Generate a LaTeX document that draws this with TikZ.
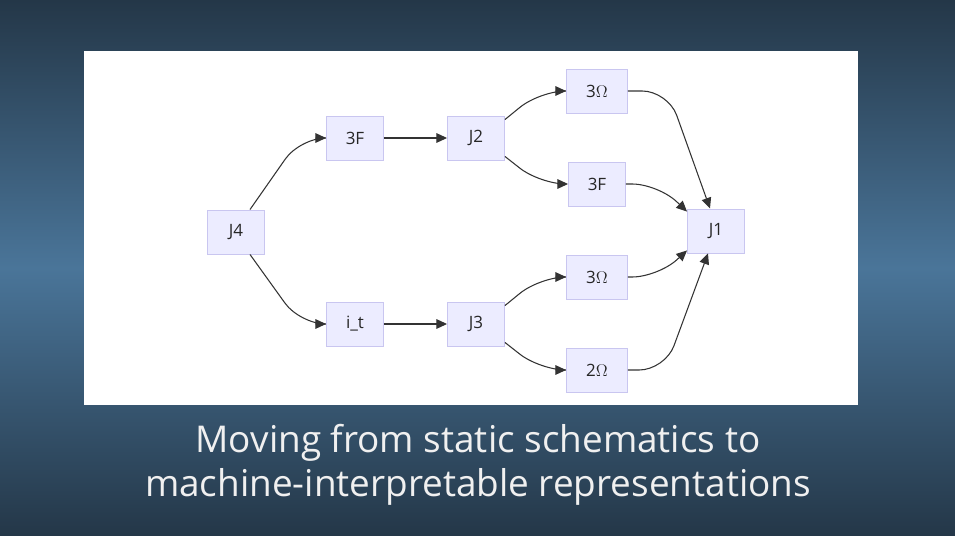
\documentclass[tikz,border=0pt]{standalone}
\usepackage{fontspec}
\setmainfont{Open Sans}
\usetikzlibrary{arrows.meta}
\usetikzlibrary{calc}

\definecolor{slidetop}{HTML}{243748}
\definecolor{slidemid}{HTML}{4A7599}
\definecolor{boxfill}{HTML}{ECECFF}
\definecolor{boxline}{HTML}{C9C6F0}
\definecolor{edgecol}{HTML}{333333}

\begin{document}
\begin{tikzpicture}[x=0.03cm, y=-0.03cm,
                    box/.style={draw=boxline, fill=boxfill, line width=0.8pt,
                      minimum width=1.71cm, minimum height=1.32cm, inner sep=0pt,
                      font=\fontsize{14.5}{16}\selectfont, text=black!85},
                    wide/.style={minimum width=1.83cm},
                    edge/.style={draw=edgecol, line width=0.9pt, rounded corners=22,
                      -{Triangle[length=3.2mm, width=2.9mm]}}]
      % slide background and white panel
      \shade[top color=slidetop, bottom color=slidetop, middle color=slidemid]
        (0,0) rectangle (955,536);
      \useasboundingbox (0,0) rectangle (955,536);
      \fill[white] (84,51) rectangle (858,405);

      \node[box] (J4) at (236,232) {J4};
      \node[box] (F1) at (355,138) {3F};
      \node[box] (J2) at (476,138) {J2};
      \node[box] (It) at (355,324) {i\_t};
      \node[box] (J3) at (476,324) {J3};
      \node[box, wide] (R1) at (597,91) {3$\Omega$};
      \node[box] (F2) at (597,184) {3F};
      \node[box, wide] (R2) at (597,277) {3$\Omega$};
      \node[box, wide] (R3) at (597,370) {2$\Omega$};
      \node[box] (J1) at (716,231) {J1};

      \begin{scope}
          \draw[edge] ($(J4.north)+(14,0)$) -- (300,138) -- (F1.west);
          \draw[edge] ($(J4.south)+(14,0)$) -- (300,324) -- (It.west);
          \draw[edge] (F1.east) -- (J2.west);
          \draw[edge] (It.east) -- (J3.west);

          \draw[edge] ($(J2.north east)+(0,4)$) -- (540,91) -- (R1.west);
          \draw[edge] ($(J2.south east)+(0,-4)$) -- (540,184) -- (F2.west);
          \draw[edge] ($(J3.north east)+(0,4)$) -- (540,277) -- (R2.west);
          \draw[edge] ($(J3.south east)+(0,-4)$) -- (540,370) -- (R3.west);

          \draw[edge] (R1.east) -- (668,91) -- ($(J1.north)+(-6,0)$);
          \draw[edge] (F2.east) -- (658,184) -- ($(J1.north west)+(0,3)$);
          \draw[edge] (R2.east) -- (658,277) -- ($(J1.south west)+(0,-3)$);
          \draw[edge] (R3.east) -- (665,370) -- ($(J1.south)+(-8,0)$);
      \end{scope}

      \node[text=white!94!black, font=\fontsize{31.5}{38}\selectfont, align=center]
        (cap) at (478,465) {Moving from static schematics to\\machine-interpretable representations};
\end{tikzpicture}
\end{document}
